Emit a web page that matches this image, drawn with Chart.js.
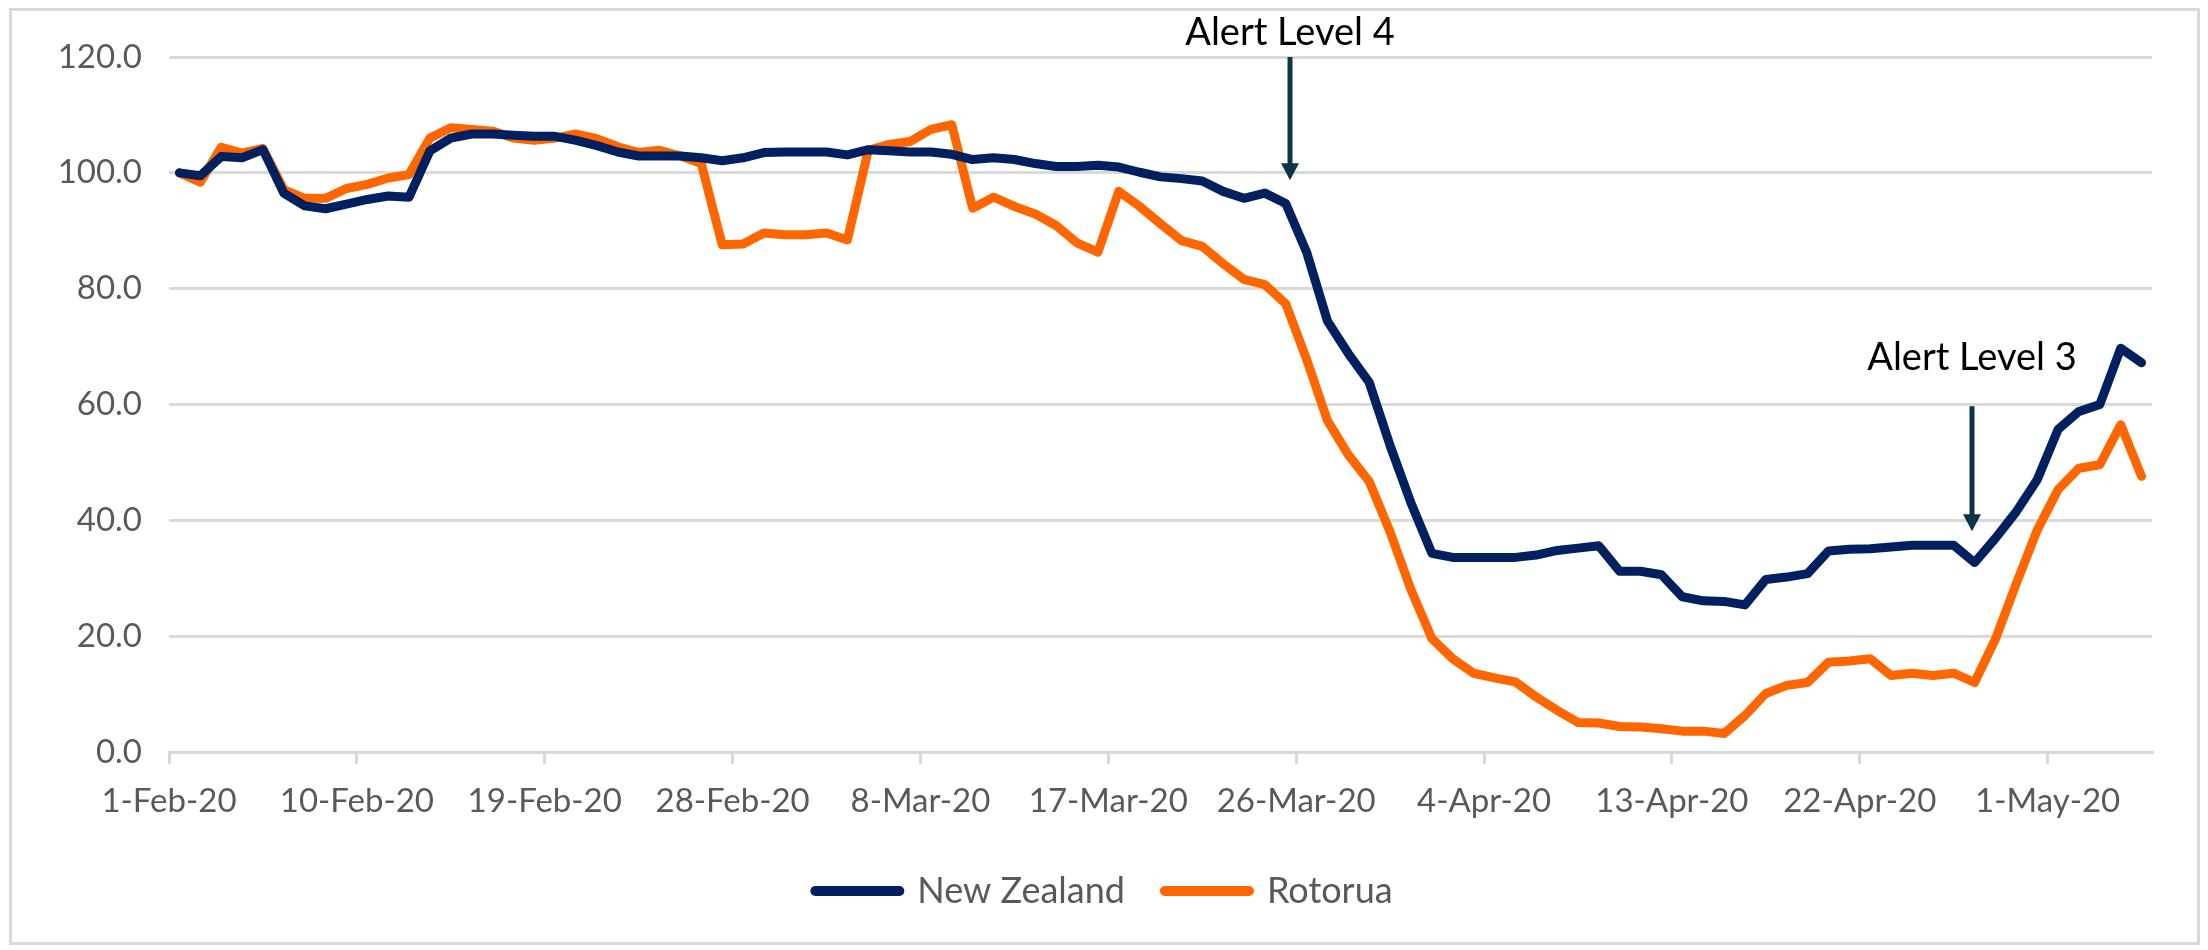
<!DOCTYPE html>
<html>
<head>
<meta charset="utf-8">
<script src="https://cdn.jsdelivr.net/npm/chart.js@4.4.1/dist/chart.umd.min.js"></script>
<style>
html,body{margin:0;padding:0;background:#ffffff;}
#wrap{width:2208px;height:950px;position:relative;}
canvas{display:block;}
</style>
</head>
<body>
<div id="wrap"><canvas id="c" width="2208" height="950"></canvas></div>
<script>
// ---- categories (one per day) ----
const dates = [
 '1-Feb-20','2-Feb-20','3-Feb-20','4-Feb-20','5-Feb-20','6-Feb-20','7-Feb-20','8-Feb-20','9-Feb-20','10-Feb-20',
 '11-Feb-20','12-Feb-20','13-Feb-20','14-Feb-20','15-Feb-20','16-Feb-20','17-Feb-20','18-Feb-20','19-Feb-20','20-Feb-20',
 '21-Feb-20','22-Feb-20','23-Feb-20','24-Feb-20','25-Feb-20','26-Feb-20','27-Feb-20','28-Feb-20','29-Feb-20',
 '1-Mar-20','2-Mar-20','3-Mar-20','4-Mar-20','5-Mar-20','6-Mar-20','7-Mar-20','8-Mar-20','9-Mar-20','10-Mar-20',
 '11-Mar-20','12-Mar-20','13-Mar-20','14-Mar-20','15-Mar-20','16-Mar-20','17-Mar-20','18-Mar-20','19-Mar-20','20-Mar-20',
 '21-Mar-20','22-Mar-20','23-Mar-20','24-Mar-20','25-Mar-20','26-Mar-20','27-Mar-20','28-Mar-20','29-Mar-20','30-Mar-20','31-Mar-20',
 '1-Apr-20','2-Apr-20','3-Apr-20','4-Apr-20','5-Apr-20','6-Apr-20','7-Apr-20','8-Apr-20','9-Apr-20','10-Apr-20',
 '11-Apr-20','12-Apr-20','13-Apr-20','14-Apr-20','15-Apr-20','16-Apr-20','17-Apr-20','18-Apr-20','19-Apr-20','20-Apr-20',
 '21-Apr-20','22-Apr-20','23-Apr-20','24-Apr-20','25-Apr-20','26-Apr-20','27-Apr-20','28-Apr-20','29-Apr-20','30-Apr-20',
 '1-May-20','2-May-20','3-May-20','4-May-20','5-May-20'
];

// ---- tick labels shown on the x axis (every 9th day) ----
const tickLabels = ['1-Feb-20','10-Feb-20','19-Feb-20','28-Feb-20','8-Mar-20','17-Mar-20','26-Mar-20','4-Apr-20','13-Apr-20','22-Apr-20','1-May-20'];
const tickEvery = 9;

// ---- series ----
const newZealand = [
 100.0, 99.5,102.8,102.6,104.0, 96.5, 94.3, 93.8, 94.6, 95.4,
  96.0, 95.8,103.8,106.0,106.7,106.7,106.5,106.3,106.3,105.6,
 104.7,103.6,102.9,102.9,102.9,102.6,102.1,102.6,103.5,103.6,
 103.6,103.6,103.1,104.0,103.8,103.6,103.6,103.2,102.3,102.6,
 102.3,101.6,101.1,101.1,101.3,101.0,100.1, 99.3, 99.0, 98.6,
  96.8, 95.6, 96.5, 94.7, 86.3, 74.4, 68.8, 63.8, 52.9, 43.0,
  34.3, 33.6, 33.6, 33.6, 33.6, 34.0, 34.8, 35.2, 35.6, 31.2,
  31.2, 30.6, 26.8, 26.1, 26.0, 25.4, 29.8, 30.2, 30.8, 34.7,
  35.0, 35.1, 35.4, 35.7, 35.7, 35.7, 32.7, 36.9, 41.5, 47.0,
  55.7, 58.8, 60.0, 69.7, 67.2
];
const rotorua = [
 100.0, 98.4,104.4,103.4,104.2, 97.1, 95.6, 95.6, 97.3, 98.0,
  99.1, 99.7,106.0,107.8,107.5,107.2,106.0,105.6,106.0,106.7,
 105.9,104.5,103.5,103.9,102.9,101.6, 87.6, 87.7, 89.6, 89.3,
  89.3, 89.6, 88.4,103.9,104.9,105.4,107.5,108.3, 93.9, 95.8,
  94.2, 92.9, 90.9, 87.9, 86.3, 96.8, 94.2, 91.2, 88.3, 87.3,
  84.3, 81.6, 80.7, 77.4, 67.8, 57.2, 51.3, 46.7, 38.0, 28.0,
  19.6, 16.1, 13.6, 12.8, 12.1,  9.5,  7.2,  5.1,  5.0,  4.4,
   4.3,  4.0,  3.6,  3.6,  3.2,  6.3, 10.1, 11.5, 12.0, 15.5,
  15.7, 16.1, 13.2, 13.6, 13.2, 13.6, 12.0, 19.5, 29.1, 38.3,
  45.3, 49.0, 49.6, 56.5, 47.6
];
const seriesNames = ['New Zealand', 'Rotorua'];

// ---- y axis ----
const yMin = 0, yMax = 120, yStep = 20;

// ---- annotations (x in day units from 1-Feb, y in axis units) ----
const alertLabels = ['Alert Level 4', 'Alert Level 3'];
const alertDay    = [53.7, 86.4];
const alertTop    = [120, 59.7];
const alertTip    = [98.7, 38.1];
const alertTextY  = [124.2, 68.1];

// ---- styling ----
const FONT = 'Lato, "Open Sans", sans-serif';
const GRAY_TEXT = '#595959';
const GRID = '#d9d9d9';
const NAVY = '#002060';
const ORANGE = '#ff6600';
const ARROW = '#0d3549';

const toPoints = arr => arr.map((v, i) => ({x: i + 0.5, y: v}));

const framePlugin = {
  id: 'frame',
  beforeDraw(chart) {
    const ctx = chart.ctx;
    ctx.save();
    ctx.fillStyle = '#ffffff';
    ctx.fillRect(0, 0, chart.width, chart.height);
    ctx.strokeStyle = GRID;
    ctx.lineWidth = 3;
    ctx.strokeRect(10.5, 9.5, chart.width - 20, chart.height - 16);
    ctx.restore();
  }
};

const alertPlugin = {
  id: 'alerts',
  afterDatasetsDraw(chart) {
    const ctx = chart.ctx;
    const xs = chart.scales.x, ys = chart.scales.y;
    ctx.save();
    for (let k = 0; k < alertLabels.length; k++) {
      const x = Math.round(xs.getPixelForValue(alertDay[k]));
      const top = ys.getPixelForValue(alertTop[k]);
      const tip = ys.getPixelForValue(alertTip[k]);
      const headH = 17, headW = 18;
      ctx.strokeStyle = ARROW;
      ctx.fillStyle = ARROW;
      ctx.lineWidth = 5;
      ctx.lineCap = 'butt';
      ctx.beginPath();
      ctx.moveTo(x, top);
      ctx.lineTo(x, tip - headH + 2);
      ctx.stroke();
      ctx.beginPath();
      ctx.moveTo(x - headW / 2, tip - headH);
      ctx.lineTo(x + headW / 2, tip - headH);
      ctx.lineTo(x, tip);
      ctx.closePath();
      ctx.fill();
      ctx.fillStyle = '#000000';
      ctx.font = '38px ' + FONT;
      ctx.textAlign = 'center';
      ctx.textBaseline = 'middle';
      ctx.fillText(alertLabels[k], x, ys.getPixelForValue(alertTextY[k]));
    }
    ctx.restore();
  }
};

new Chart(document.getElementById('c'), {
  type: 'line',
  data: {
    datasets: [
      {label: seriesNames[0], data: toPoints(newZealand), borderColor: NAVY, backgroundColor: NAVY},
      {label: seriesNames[1], data: toPoints(rotorua), borderColor: ORANGE, backgroundColor: ORANGE}
    ]
  },
  options: {
    responsive: false,
    devicePixelRatio: 1,
    animation: false,
    events: [],
    datasets: {
      line: {
        borderWidth: 9,
        pointRadius: 0,
        tension: 0,
        fill: false,
        borderJoinStyle: 'round',
        borderCapStyle: 'round'
      }
    },
    layout: {padding: {left: 0, right: 0, top: 57, bottom: 31}},
    plugins: {
      tooltip: {enabled: false},
      legend: {
        display: true,
        position: 'bottom',
        labels: {
          usePointStyle: true,
          pointStyle: 'line',
          pointStyleWidth: 84,
          padding: 40,
          color: GRAY_TEXT,
          font: {family: FONT, size: 36},
          generateLabels: (chart) => {
            const items = Chart.defaults.plugins.legend.labels.generateLabels(chart);
            items.forEach(it => { it.lineWidth = 10; it.lineCap = 'round'; });
            return items;
          }
        }
      }
    },
    scales: {
      x: {
        type: 'linear',
        min: 0,
        max: dates.length,
        afterBuildTicks: (s) => { s.ticks = tickLabels.map((_, k) => ({value: k * tickEvery})); },
        afterFit: (s) => { s.height = 81; },
        ticks: {
          autoSkip: false,
          maxRotation: 0,
          minRotation: 0,
          padding: 18,
          color: GRAY_TEXT,
          font: {family: FONT, size: 33},
          callback: (v) => tickLabels[Math.round(v / tickEvery)]
        },
        grid: {
          drawOnChartArea: false,
          drawTicks: true,
          tickLength: 12,
          color: GRID,
          lineWidth: 3
        },
        border: {display: true, color: GRID, width: 3}
      },
      y: {
        min: yMin,
        max: yMax,
        afterFit: (s) => { s.width = 169; },
        ticks: {
          stepSize: yStep,
          padding: 27,
          color: GRAY_TEXT,
          font: {family: FONT, size: 33},
          callback: (v) => Number(v).toFixed(1)
        },
        grid: {color: GRID, lineWidth: 3, drawTicks: false},
        border: {display: false}
      },
      y2: {
        position: 'right',
        display: true,
        afterFit: (s) => { s.width = 56; },
        ticks: {display: false},
        grid: {display: false, drawTicks: false},
        border: {display: false}
      }
    }
  },
  plugins: [framePlugin, alertPlugin]
});
</script>
</body>
</html>
